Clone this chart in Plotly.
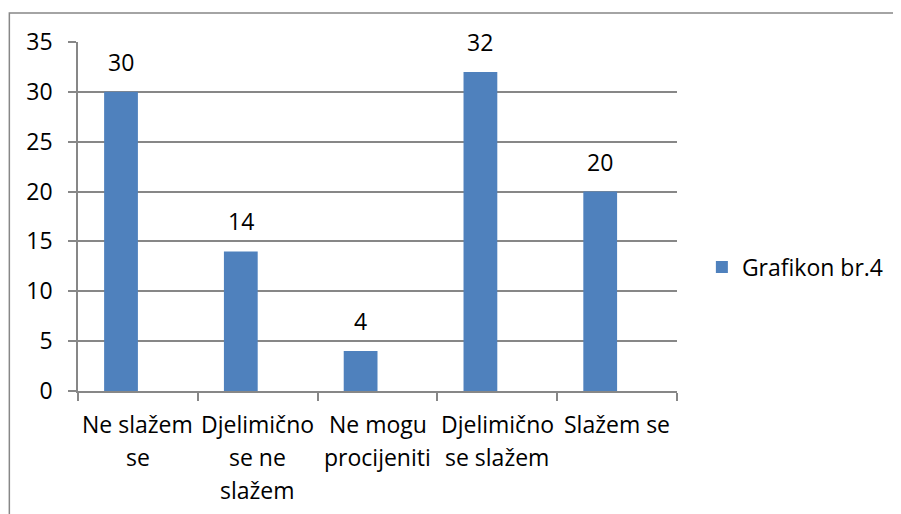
import plotly.graph_objects as go

categories = ["Ne slažem se", "Djelimično se ne slažem", "Ne mogu procijeniti",
              "Djelimično se slažem", "Slažem se"]
label_lines = [["Ne slažem", "se"], ["Djelimično", "se ne", "slažem"],
               ["Ne mogu", "procijeniti"], ["Djelimično", "se slažem"], ["Slažem se"]]
values = [30, 14, 4, 32, 20]
series_name = "Grafikon br.4"
y_ticks = [0, 5, 10, 15, 20, 25, 30, 35]

# page body has an 8px margin; work in figure coordinates
OFF = 8
W, H = 901 - OFF, 514 - OFF
L, R, T, B = 78 - OFF, 680 - OFF, 42 - OFF, 391 - OFF
pw, ph = R - L, B - T

FONT = "Open Sans"
FS = 23
GRID = "#878787"
BW = 0.282

fig = go.Figure()
fig.add_trace(go.Bar(
    x=categories, y=values, name=series_name,
    marker=dict(color="#4F81BD", line=dict(width=0)),
    width=BW, offset=-BW,
))

for c, v in zip(categories, values):
    fig.add_annotation(x=c, y=v, text=str(v), showarrow=False,
                       yanchor="bottom", yshift=12, xshift=-17,
                       font=dict(family=FONT, size=FS, color="black"))

# category labels (Excel-style wrapped lines)
for c, lines in zip(categories, label_lines):
    for i, line in enumerate(lines):
        fig.add_annotation(x=c, y=0, text=line, showarrow=False,
                           yanchor="middle", yshift=-(33 + 33 * i),
                           font=dict(family=FONT, size=FS, color="black"))

# outer chart border
fig.add_shape(type="rect", xref="paper", yref="paper",
              x0=(1 - L) / pw, x1=(W + 20 - L) / pw,
              y0=(B - H - 20) / ph, y1=(B - 5) / ph,
              line=dict(color=GRID, width=1.5), fillcolor="rgba(0,0,0,0)")

fig.update_layout(
    width=W, height=H,
    margin=dict(l=L, r=W - R, t=T, b=H - B),
    paper_bgcolor="white", plot_bgcolor="white",
    font=dict(family=FONT, size=FS, color="black"),
    showlegend=True,
    legend=dict(x=(705 - OFF - L) / pw, y=(B - (267 - OFF)) / ph,
                xanchor="left", yanchor="middle",
                font=dict(family=FONT, size=FS, color="black"),
                itemwidth=30),
)
fig.update_xaxes(
    tickmode="array", tickvals=categories, showticklabels=False,
    tickson="boundaries", ticks="outside", ticklen=8, tickcolor=GRID, tickwidth=1.5,
    showline=True, linecolor=GRID, linewidth=1.5,
    showgrid=False,
)
fig.update_yaxes(
    range=[0, 35], tickmode="array", tickvals=y_ticks,
    ticks="outside", ticklen=8, tickcolor=GRID, tickwidth=1.5,
    showline=True, linecolor=GRID, linewidth=1.5,
    showgrid=True, gridcolor=GRID, gridwidth=1.5, zeroline=False,
    ticklabelstandoff=11,
    tickfont=dict(family=FONT, size=FS, color="black"),
)

fig.write_html("out.html")
